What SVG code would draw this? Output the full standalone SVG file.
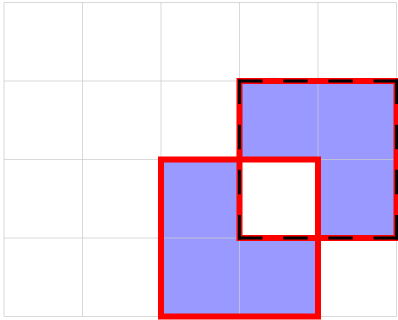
<svg xmlns="http://www.w3.org/2000/svg" width="398" height="320" viewBox="0 0 398 320">
<style>
.grid line{stroke:#cccccc;stroke-width:1;stroke-opacity:0.75}
.fill{fill:#9999ff;fill-rule:evenodd;stroke:none}
.red{fill:none;stroke:#ff0000;stroke-width:6;stroke-linejoin:miter;stroke-linecap:square}
.dash{stroke:#000000;stroke-width:3;stroke-linecap:square;stroke-dasharray:21.5 23.67}
</style>
<rect x="0" y="0" width="398" height="320" fill="#ffffff"/>
<path class="fill" d="M161 159.5H318V316.5H161Z M239.5 81H396.5V238H239.5Z"/>
<g class="grid">
<line x1="4" y1="2.5" x2="4" y2="316.5"/>
<line x1="82.5" y1="2.5" x2="82.5" y2="316.5"/>
<line x1="161" y1="2.5" x2="161" y2="316.5"/>
<line x1="239.5" y1="2.5" x2="239.5" y2="316.5"/>
<line x1="318" y1="2.5" x2="318" y2="316.5"/>
<line x1="396.5" y1="2.5" x2="396.5" y2="316.5"/>
<line x1="4" y1="2.5" x2="396.5" y2="2.5"/>
<line x1="4" y1="81" x2="396.5" y2="81"/>
<line x1="4" y1="159.5" x2="396.5" y2="159.5"/>
<line x1="4" y1="238" x2="396.5" y2="238"/>
<line x1="4" y1="316.5" x2="396.5" y2="316.5"/>
</g>
<g id="shapeA">
<rect class="red" x="161" y="159.5" width="157" height="157"/>
</g>
<g id="shapeB">
<rect class="red" x="239.5" y="81" width="157" height="157"/>
<line class="dash" x1="239.5" y1="81" x2="396.5" y2="81"/>
<line class="dash" x1="396.5" y1="81" x2="396.5" y2="238"/>
<line class="dash" x1="396.5" y1="238" x2="239.5" y2="238"/>
<line class="dash" x1="239.5" y1="238" x2="239.5" y2="81"/>
</g>
</svg>
